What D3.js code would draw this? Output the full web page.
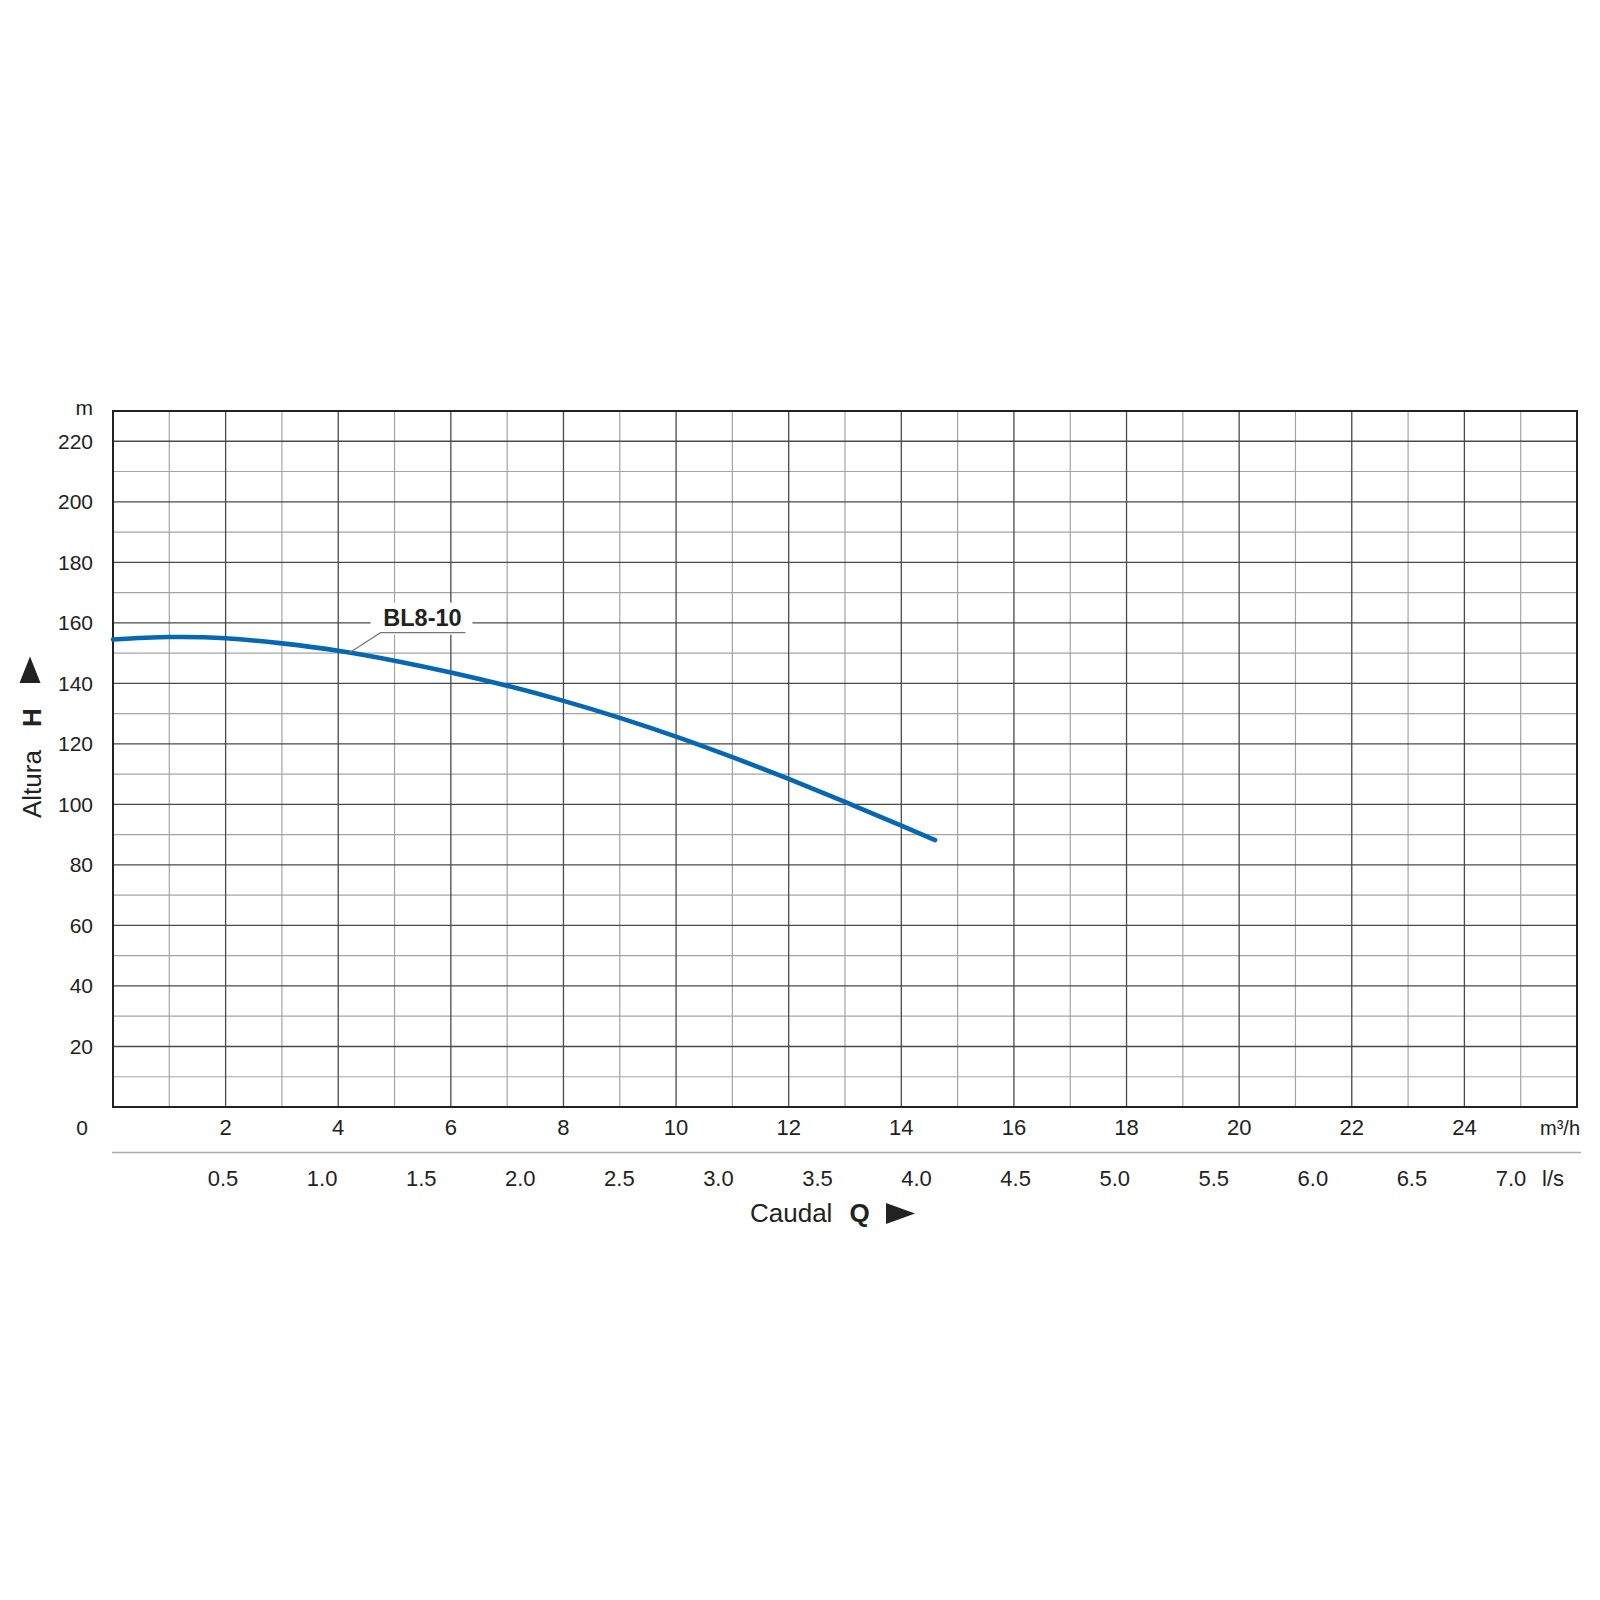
<!DOCTYPE html>
<html>
<head>
<meta charset="utf-8">
<script src="https://cdn.jsdelivr.net/npm/d3@7"></script>
<style>
  html, body { margin: 0; padding: 0; background: #fff; }
  svg text { font-family: "Liberation Sans", Arial, Helvetica, sans-serif; fill: #222; }
</style>
</head>
<body>
<svg id="chart" width="1600" height="1600"></svg>
<script>
// Pump curve BL8-10: flow Q (m3/h) vs head H (m)
const flow = [0, 1, 2, 3, 4, 5, 6, 7, 8, 9, 10, 11, 12, 13, 14, 14.6];
const head = [154.5, 155.3, 154.9, 153.2, 150.8, 147.5, 143.6, 139.2, 134.2, 128.6, 122.4, 115.6, 108.4, 100.8, 93.0, 88.2];

const yTicks = [20, 40, 60, 80, 100, 120, 140, 160, 180, 200, 220];
const xTicks = [2, 4, 6, 8, 10, 12, 14, 16, 18, 20, 22, 24];
const lsTicks = ['0.5', '1.0', '1.5', '2.0', '2.5', '3.0', '3.5', '4.0', '4.5', '5.0', '5.5', '6.0', '6.5', '7.0'];

const curveName = 'BL8-10';
const labelAt = 4.2; // flow where the label leader touches the curve

const svg = d3.select('#chart');
const plotL = 113, plotR = 1577, plotT = 411, plotB = 1107;

const x = d3.scaleLinear().domain([0, 26]).range([plotL, plotR]);
const y = d3.scaleLinear().domain([0, 230]).range([plotB, plotT]);
// l/s labels are a second, slightly offset row under the m3/h row
const xls = d3.scaleLinear().domain([0, 7]).range([124, 1511]);

// grid: minor first, then major
const grid = svg.append('g');
const minorX = d3.range(1, 26, 2);
const majorX = d3.range(2, 26, 2);
const minorY = d3.range(10, 230, 20);
const majorY = d3.range(20, 230, 20);

grid.selectAll('.vminor').data(minorX).enter().append('line')
  .attr('x1', d => x(d)).attr('x2', d => x(d))
  .attr('y1', plotT).attr('y2', plotB)
  .attr('stroke', '#a4a4a4').attr('stroke-width', 1.2);
grid.selectAll('.hminor').data(minorY).enter().append('line')
  .attr('x1', plotL).attr('x2', plotR)
  .attr('y1', d => y(d)).attr('y2', d => y(d))
  .attr('stroke', '#a4a4a4').attr('stroke-width', 1.2);
grid.selectAll('.vmajor').data(majorX).enter().append('line')
  .attr('x1', d => x(d)).attr('x2', d => x(d))
  .attr('y1', plotT).attr('y2', plotB)
  .attr('stroke', '#4a4a4a').attr('stroke-width', 1.3);
grid.selectAll('.hmajor').data(majorY).enter().append('line')
  .attr('x1', plotL).attr('x2', plotR)
  .attr('y1', d => y(d)).attr('y2', d => y(d))
  .attr('stroke', '#4a4a4a').attr('stroke-width', 1.3);

// frame
svg.append('rect')
  .attr('x', plotL).attr('y', plotT)
  .attr('width', plotR - plotL).attr('height', plotB - plotT)
  .attr('fill', 'none').attr('stroke', '#222').attr('stroke-width', 2);

// label box covering the grid behind the curve name
const anchorH = d3.interpolateNumber(head[4], head[5])((labelAt - flow[4]) / (flow[5] - flow[4]));
const ax = x(labelAt), ay = y(anchorH);
svg.append('rect')
  .attr('x', ax + 21).attr('y', ay - 50)
  .attr('width', 102).attr('height', 32)
  .attr('fill', '#fff');

// curve
const pts = flow.map((q, i) => [q, head[i]]);
svg.append('path')
  .datum(pts)
  .attr('fill', 'none')
  .attr('stroke', '#0668b3')
  .attr('stroke-width', 4.6)
  .attr('stroke-linecap', 'round')
  .attr('d', d3.line().x(d => x(d[0])).y(d => y(d[1])).curve(d3.curveNatural));

// leader + name
svg.append('path')
  .attr('d', `M${ax},${ay} L${ax + 31},${ay - 20} L${ax + 116},${ay - 20}`)
  .attr('fill', 'none').attr('stroke', '#777').attr('stroke-width', 1.1);
svg.append('text')
  .attr('x', ax + 73).attr('y', ay - 27)
  .attr('text-anchor', 'middle')
  .attr('font-size', 23.5).attr('font-weight', 'bold')
  .text(curveName);

// y labels
svg.selectAll('.ylab').data(yTicks).enter().append('text')
  .attr('x', 93).attr('y', d => y(d) + 7.5)
  .attr('text-anchor', 'end').attr('font-size', 21)
  .text(d => d);
svg.append('text').attr('x', 93).attr('y', 415)
  .attr('text-anchor', 'end').attr('font-size', 21).text('m');
svg.append('text').attr('x', 88).attr('y', 1135)
  .attr('text-anchor', 'end').attr('font-size', 21).text('0');

// x labels m3/h
svg.selectAll('.xlab').data(xTicks).enter().append('text')
  .attr('x', d => x(d)).attr('y', 1135)
  .attr('text-anchor', 'middle').attr('font-size', 22)
  .text(d => d);
svg.append('text').attr('x', 1580).attr('y', 1135)
  .attr('text-anchor', 'end').attr('font-size', 20).text('m³/h');

svg.append('line')
  .attr('x1', plotL - 1).attr('x2', 1581)
  .attr('y1', 1152.5).attr('y2', 1152.5)
  .attr('stroke', '#aaa').attr('stroke-width', 1.5);

// x labels l/s
svg.selectAll('.lslab').data(lsTicks).enter().append('text')
  .attr('x', d => xls(+d)).attr('y', 1186)
  .attr('text-anchor', 'middle').attr('font-size', 22)
  .text(d => d);
svg.append('text').attr('x', 1542).attr('y', 1186)
  .attr('font-size', 22).text('l/s');

// axis titles
const xt = svg.append('text').attr('x', 750).attr('y', 1222).attr('font-size', 26);
xt.append('tspan').text('Caudal');
xt.append('tspan').attr('dx', 17).attr('font-weight', 'bold').text('Q');
svg.append('path')
  .attr('d', 'M886,1203 L915,1213.5 L886,1224 Z')
  .attr('fill', '#222');

const yt = svg.append('text')
  .attr('transform', 'translate(41,818) rotate(-90)')
  .attr('font-size', 26);
yt.append('tspan').text('Altura');
yt.append('tspan').attr('dx', 23).attr('font-weight', 'bold').text('H');
svg.append('path')
  .attr('d', 'M19.5,683 L30,656.5 L40.5,683 Z')
  .attr('fill', '#222');
</script>
</body>
</html>
